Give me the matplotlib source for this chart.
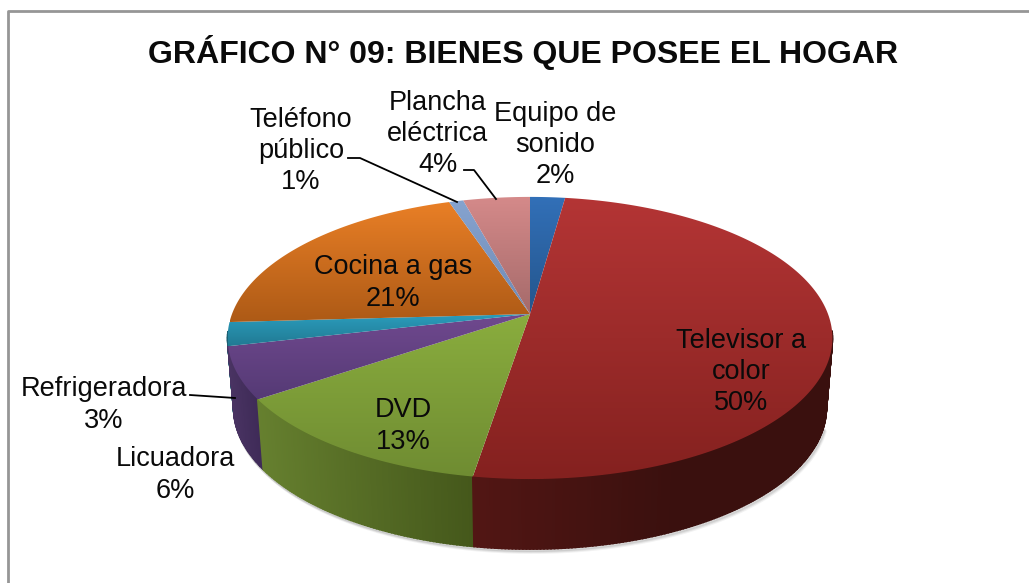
import matplotlib
matplotlib.use("Agg")
import matplotlib.pyplot as plt
import numpy as np
from matplotlib.colors import LinearSegmentedColormap
from matplotlib.patches import Polygon

plt.rcParams['font.family'] = ['Liberation Sans', 'DejaVu Sans']

title = "GRÁFICO N° 09: BIENES QUE POSEE EL HOGAR"
names = ["Equipo de\nsonido", "Televisor a\ncolor", "DVD", "Licuadora", "Refrigeradora",
         "Cocina a gas", "Teléfono\npúblico", "Plancha\neléctrica"]
# shares as read from the slice edges, the labels round them
values = [2.2, 50.3, 12.9, 5.9, 2.7, 20.8, 0.9, 4.2]
top_light = ["#3270b8", "#b43535", "#8aad3e", "#70498f", "#2b9dbd", "#e97f26", "#86a3cf", "#d58a8a"]
top_dark = ["#24558c", "#84211f", "#6f8c32", "#553a75", "#217a93", "#ad5a16", "#6f8ab5", "#a56a6a"]
side_left = ["#1d4270", "#521614", "#66802f", "#4a3463", "#1a5f73", "#8a4a12", "#55698c", "#7d5050"]
side_right = ["#1d4270", "#3a100e", "#45581b", "#3f2b58", "#1a5f73", "#8a4a12", "#55698c", "#7d5050"]

# label positions in pixels (center x, center y)
label_pos = [(555, 145), (741, 372), (403, 426), (175, 475), (104, 405),
             (393, 283), (301, 151), (438, 134)]
leaders = [[(348, 158), (360, 158), (457, 202)],
           [(464, 170), (474, 170), (496, 199)],
           [(190, 395), (235, 398)]]

cx, cy = 530, 314
b, a, k = 298, 137, 0.17
depth = 70
shrink = 0.98


def rim(theta):
    # circle to screen with a bit of perspective, theta clockwise from the top
    x = np.sin(theta)
    y = np.cos(theta)
    d = 1 + k * y
    return cx + b * x / d, cy - a * y / d


fig = plt.figure(figsize=(10.29, 5.83), dpi=100)
ax = fig.add_axes([0, 0, 1, 1])
ax.set_xlim(0, 1029)
ax.set_ylim(583, 0)
ax.axis('off')

# chart frame, only left and top are visible
ax.plot([8, 8, 1029], [583, 11, 11], color="#969696", lw=2, zorder=1)

edges = np.cumsum([0] + values) / sum(values) * 2 * np.pi

# soft shadow under the side
t = np.linspace(np.pi * 0.6, np.pi * 1.45, 300)
rx, ry = rim(t)
for off, al in [(3.5, 0.10), (2.5, 0.16), (1.5, 0.22)]:
    ax.plot(cx + (rx - cx) * shrink + off * 0.6, ry + depth + off, color="#808080",
            alpha=al, lw=2, zorder=2)

# side strips, collected first so the back ones get drawn first
strips = []
for i in range(len(values)):
    n = max(int((edges[i + 1] - edges[i]) / 0.01), 2)
    ts = np.linspace(edges[i], edges[i + 1], n + 1)
    c1 = np.array(matplotlib.colors.to_rgb(side_left[i]))
    c2 = np.array(matplotlib.colors.to_rgb(side_right[i]))
    xs, ys = rim(ts)
    for j in range(n):
        if ys[j] < 332 and ys[j + 1] < 332:
            continue  # hidden behind the top face
        # left end of the strip is lighter for most slices
        f = 1 - (xs[j] - xs.min()) / max(xs.max() - xs.min(), 1)
        col = c2 + (c1 - c2) * f if i != 1 else c1 + (c2 - c1) * min((xs[j] - 475) / 200, 1)
        pts = [(xs[j], ys[j]), (xs[j + 1], ys[j + 1]),
               (cx + (xs[j + 1] - cx) * shrink, ys[j + 1] + depth),
               (cx + (xs[j] - cx) * shrink, ys[j] + depth)]
        strips.append((ys[j], pts, col))
strips.sort(key=lambda s: s[0])
for z, (y0, pts, col) in enumerate(strips):
    ax.add_patch(Polygon(pts, closed=True, fc=col, ec=col, lw=1.2, zorder=3 + z * 1e-4))

# top faces with a vertical gradient
for i in range(len(values)):
    ts = np.linspace(edges[i], edges[i + 1], 200)
    xs, ys = rim(ts)
    px = np.r_[cx, xs]
    py = np.r_[cy, ys]
    cmap = LinearSegmentedColormap.from_list("s", [top_light[i], top_dark[i]])
    grad = np.linspace(0, 1, 256).reshape(-1, 1)
    im = ax.imshow(grad, cmap=cmap, aspect='auto', zorder=4,
                   extent=(px.min(), px.max(), py.max(), py.min()))
    clip = Polygon(np.c_[px, py], closed=True, transform=ax.transData, fc='none', ec='none')
    ax.add_patch(clip)
    im.set_clip_path(clip)
ax.set_xlim(0, 1029)
ax.set_ylim(583, 0)

ax.text(523, 52, title, ha='center', va='center', fontsize=23, fontweight='bold',
        color="#0a0a0a", zorder=6)

for name, v, (lx, ly) in zip(names, values, label_pos):
    ax.text(lx, ly, "%s\n%d%%" % (name, round(v)), ha='center', va='center', fontsize=19.5,
            linespacing=1.27, color="#0a0a0a", zorder=6)

for line in leaders:
    lx, ly = zip(*line)
    ax.plot(lx, ly, color="black", lw=1.3, zorder=5)

fig.savefig("out.png", dpi=100)
